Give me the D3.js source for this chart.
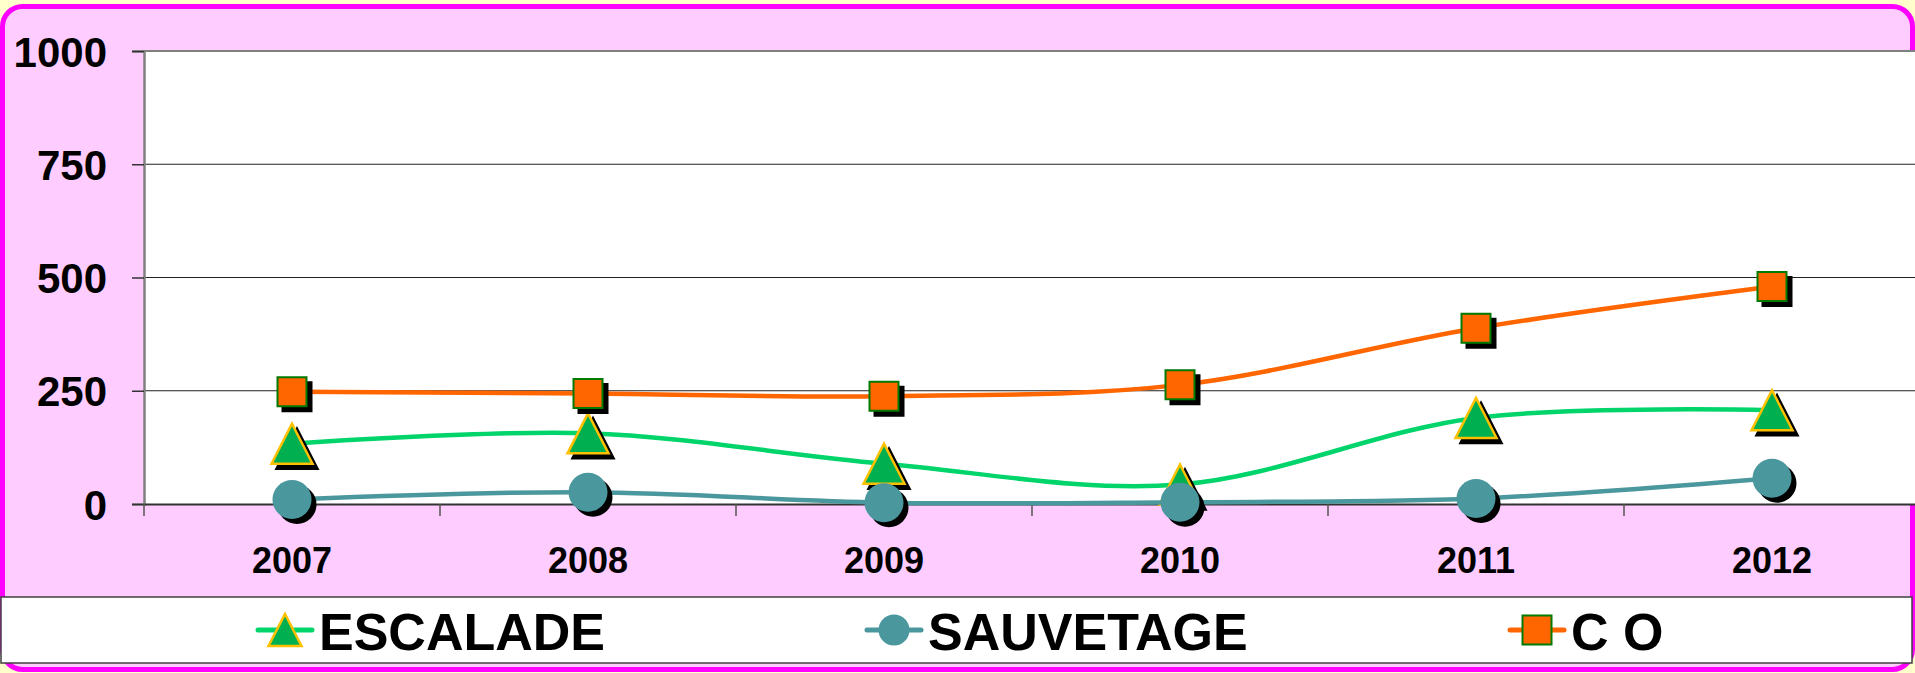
<!DOCTYPE html>
<html>
<head>
<meta charset="utf-8">
<script src="https://cdn.jsdelivr.net/npm/d3@7"></script>
<style>
  html, body { margin: 0; padding: 0; background: #FFFFCC; overflow: hidden; }
  svg { display: block; }
  text { font-family: "Liberation Sans", Arial, sans-serif; font-weight: bold; fill: #000; }
</style>
</head>
<body>
<svg id="chart" width="1915" height="673"></svg>
<script>
const years = ["2007", "2008", "2009", "2010", "2011", "2012"];
const escalade = [133, 156, 89, 43, 190, 207];
const sauvetage = [10, 26, 3, 4, 12, 57];
const co = [248, 244, 238, 263, 388, 480];
const yTicks = [0, 250, 500, 750, 1000];
const seriesNames = ["ESCALADE", "SAUVETAGE", "C O"];

const W = 1915, H = 673;
const svg = d3.select("#chart");

const x = d3.scaleBand().domain(years).range([144, 1920]);
const cx = d => x(d) + x.bandwidth() / 2;
const y = d3.scaleLinear().domain([0, 1000]).range([504, 51]);

// Frame
svg.append("rect")
  .attr("x", 2.5).attr("y", 6.5).attr("width", 1910).attr("height", 663)
  .attr("rx", 20).attr("ry", 20)
  .attr("fill", "#FFCCFF").attr("stroke", "#FF00FF").attr("stroke-width", 5);

// Plot area
svg.append("rect")
  .attr("x", x.range()[0]).attr("y", y(1000))
  .attr("width", x.range()[1] - x.range()[0]).attr("height", y(0) - y(1000))
  .attr("fill", "#FFFFFF");

// Gridlines
svg.append("g").selectAll("line").data(yTicks.filter(v => v > 0)).join("line")
  .attr("x1", x.range()[0]).attr("x2", x.range()[1])
  .attr("y1", d => y(d)).attr("y2", d => y(d))
  .attr("stroke", d => d === 1000 ? "#808080" : "#222")
  .attr("stroke-width", d => d === 1000 ? 2 : 1.2);

// Y axis
const yAxis = svg.append("g")
  .attr("transform", `translate(${x.range()[0]},0)`)
  .call(d3.axisLeft(y).tickValues(yTicks).tickSize(12).tickPadding(25).tickFormat(d3.format("d")));
yAxis.select(".domain").attr("stroke", "#808080").attr("stroke-width", 2.5);
yAxis.selectAll(".tick line").attr("stroke", "#333").attr("stroke-width", 1.5);
yAxis.selectAll(".tick text")
  .attr("font-size", 42).attr("font-family", "'Liberation Sans', Arial, sans-serif")
  .attr("font-weight", "bold").attr("fill", "#000").attr("dy", "0.36em");

// X axis
const xAxis = svg.append("g")
  .attr("transform", `translate(0,${y(0)})`)
  .call(d3.axisBottom(x).tickSize(0).tickPadding(43));
xAxis.select(".domain").attr("stroke", "#333").attr("stroke-width", 2);
xAxis.selectAll(".tick text")
  .attr("font-size", 36).attr("font-family", "'Liberation Sans', Arial, sans-serif")
  .attr("font-weight", "bold").attr("fill", "#000");
// tick marks at category boundaries
svg.append("g").selectAll("line").data(years).join("line")
  .attr("x1", d => x(d)).attr("x2", d => x(d))
  .attr("y1", y(0)).attr("y2", y(0) + 12)
  .attr("stroke", "#555").attr("stroke-width", 1.5);

const curve = d3.curveCatmullRom.alpha(0);
const lineGen = d3.line().x((v, i) => cx(years[i])).y(v => y(v)).curve(curve);

const triPath = (w, h) => `M0,${-h/2}L${w/2},${h/2}L${-w/2},${h/2}Z`;
const sqPath = s => `M${-s/2},${-s/2}h${s}v${s}h${-s}Z`;

const series = [
  { name: seriesNames[0], values: escalade, line: "#00D46A", kind: "tri" },
  { name: seriesNames[1], values: sauvetage, line: "#4A979E", kind: "circ" },
  { name: seriesNames[2], values: co, line: "#FF6600", kind: "sq" }
];

function drawMarker(g, kind, big, shadow) {
  let p;
  if (kind === "tri") {
    p = g.append("path").attr("d", big ? triPath(41, 40) : triPath(33, 32))
      .attr("fill", shadow ? "#000" : "#00B050")
      .attr("stroke", shadow ? "#000" : "#FFC000").attr("stroke-width", 2.5)
      .attr("stroke-linejoin", "miter");
  } else if (kind === "circ") {
    p = g.append("circle").attr("r", big ? 19.5 : 15.5)
      .attr("fill", shadow ? "#000" : "#4A979E");
  } else {
    p = g.append("path").attr("d", big ? sqPath(29) : sqPath(29))
      .attr("fill", shadow ? "#000" : "#FF6600")
      .attr("stroke", shadow ? "#000" : "#007A00").attr("stroke-width", 2);
  }
  return p;
}

series.forEach(s => {
  const g = svg.append("g");
  g.append("path").datum(s.values).attr("d", lineGen)
    .attr("fill", "none").attr("stroke", s.line).attr("stroke-width", 4.5);
  s.values.forEach((v, i) => {
    const sh = g.append("g").attr("transform", `translate(${cx(years[i]) + 5},${y(v) + 5})`);
    drawMarker(sh, s.kind, true, true);
    const m = g.append("g").attr("transform", `translate(${cx(years[i])},${y(v)})`);
    drawMarker(m, s.kind, true, false);
  });
});

// Legend
svg.append("rect")
  .attr("x", 1).attr("y", 597).attr("width", 1911).attr("height", 66)
  .attr("fill", "#FFFFFF").attr("stroke", "#404040").attr("stroke-width", 1.5);

const legendX = [285, 894, 1537];
const legendY = 630;
series.forEach((s, i) => {
  const g = svg.append("g").attr("transform", `translate(${legendX[i]},${legendY})`);
  g.append("line").attr("x1", -27).attr("x2", 27).attr("y1", 0).attr("y2", 0)
    .attr("stroke", s.line).attr("stroke-width", 5).attr("stroke-linecap", "round");
  drawMarker(g, s.kind, false, false);
  g.append("text").attr("x", 34).attr("y", 20)
    .attr("font-size", 52).text(s.name);
});
</script>
</body>
</html>
